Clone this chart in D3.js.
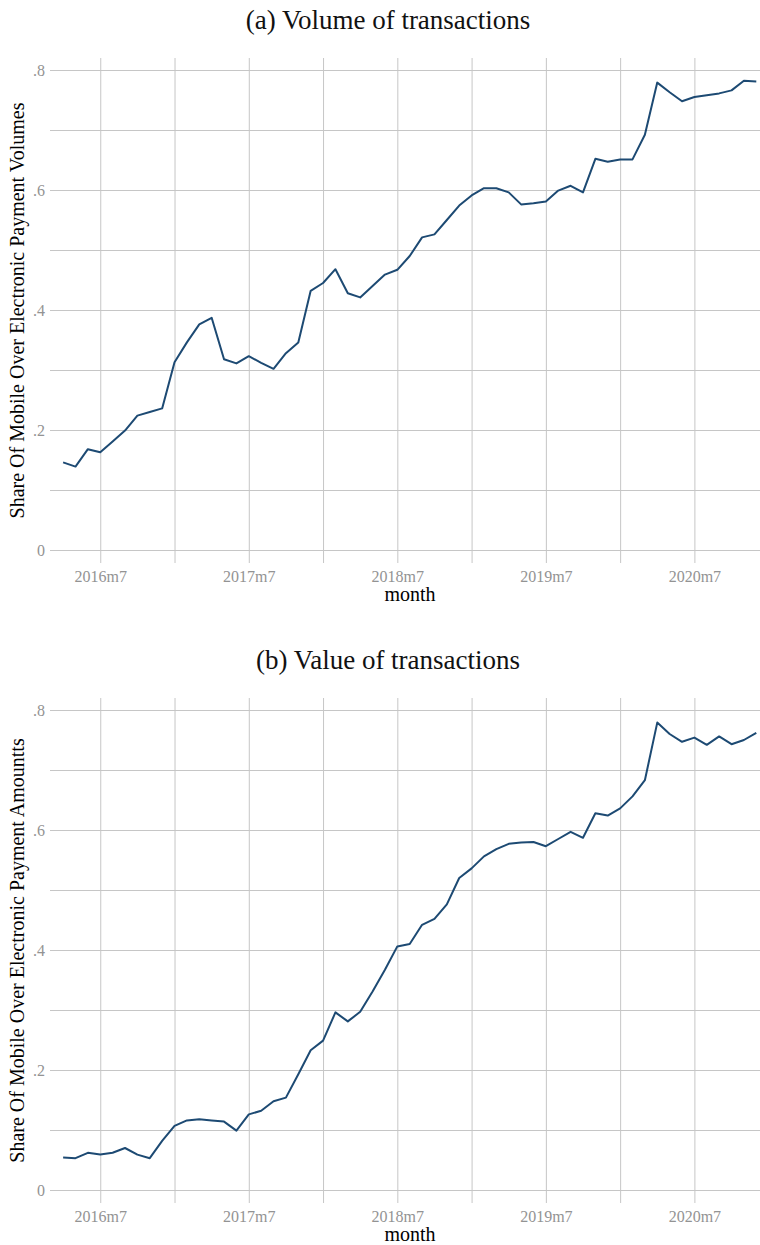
<!DOCTYPE html>
<meta charset="utf-8">
<style>
body { margin: 0; background: #fff; }
svg { display: block; }
.grid line { stroke: #c6c6c6; stroke-width: 1px; }
.grid .domain { display: none; }
.grid text { fill: #939393; font-family: "Liberation Serif", "Times New Roman", serif; font-size: 16px; }
.title { font-family: "Liberation Serif", "Times New Roman", serif; font-size: 27px; fill: #111; }
.label { font-family: "Liberation Serif", "Times New Roman", serif; font-size: 20px; fill: #000; }
.series { fill: none; stroke: #1d4a73; stroke-width: 2px; stroke-linejoin: round; }
</style>
<svg width="760" height="1245"></svg>
<script src="https://d3js.org/d3.v7.min.js"></script>
<script>

// months 2016m4 .. 2020m12, index 0..56
var startYear = 2016, startMonth = 4;
var months = d3.range(57).map(function(i) {
    var m = startMonth - 1 + i;
    return (startYear + Math.floor(m / 12)) + "m" + (m % 12 + 1);
});

var volumeShare = [
    0.146, 0.139, 0.168, 0.163, 0.181, 0.199, 0.224, 0.230, 0.236, 0.313,
    0.346, 0.376, 0.387, 0.318, 0.311, 0.323, 0.312, 0.302, 0.328, 0.346,
    0.432, 0.445, 0.468, 0.428, 0.421, 0.440, 0.459, 0.467, 0.490, 0.521,
    0.526, 0.550, 0.574, 0.591, 0.603, 0.603, 0.596, 0.576, 0.578, 0.581,
    0.599, 0.607, 0.596, 0.652, 0.647, 0.651, 0.651, 0.692, 0.779, 0.763,
    0.748, 0.755, 0.758, 0.761, 0.766, 0.782, 0.781
];

var valueShare = [
    0.054, 0.053, 0.062, 0.059, 0.062, 0.070, 0.059, 0.053, 0.082, 0.107,
    0.116, 0.118, 0.116, 0.114, 0.099, 0.126, 0.132, 0.148, 0.154, 0.193,
    0.233, 0.249, 0.296, 0.281, 0.297, 0.331, 0.367, 0.406, 0.410, 0.442,
    0.452, 0.476, 0.520, 0.536, 0.556, 0.568, 0.577, 0.579, 0.580, 0.573,
    0.585, 0.597, 0.587, 0.628, 0.624, 0.636, 0.656, 0.683, 0.779, 0.760,
    0.747, 0.754, 0.742, 0.756, 0.743, 0.750, 0.762
];

var yTicks = [0, 0.1, 0.2, 0.3, 0.4, 0.5, 0.6, 0.7, 0.8];
var yLabelled = [0, 0.2, 0.4, 0.6, 0.8];
var xTicks = d3.range(3, 57, 6);          // 2016m7, 2017m1, ...
var xLabelled = d3.range(3, 57, 12);      // every July

var panels = [
    { title: "(a) Volume of transactions",
      ylab: "Share Of Mobile Over Electronic Payment Volumes",
      values: volumeShare },
    { title: "(b) Value of transactions",
      ylab: "Share Of Mobile Over Electronic Payment Amountts",
      values: valueShare }
];

var svg = d3.select("svg");
var plotLeft = 50, plotRight = 760, plotTop = 58, plotBottom = 563;

var x = d3.scaleLinear().domain([-1.06, 56.3]).range([plotLeft, plotRight]);
var y = d3.scaleLinear().domain([0, 0.8]).range([550, 70]);

var line = d3.line()
    .x(function(d, i) { return x(i); })
    .y(function(d) { return y(d); });

panels.forEach(function(p, k) {
    var g = svg.append("g").attr("transform", "translate(0," + (k * 640) + ")");

    g.append("g")
        .attr("class", "grid")
        .attr("transform", "translate(" + plotLeft + ",0)")
        .call(d3.axisLeft(y)
            .tickValues(yTicks)
            .tickSize(-(plotRight - plotLeft))
            .tickPadding(5)
            .tickFormat(function(d) {
                if (yLabelled.indexOf(d) < 0) return "";
                return d === 0 ? "0" : d3.format(".1f")(d).replace(/^0/, "");
            }));

    g.append("g")
        .attr("class", "grid")
        .attr("transform", "translate(0," + plotBottom + ")")
        .call(d3.axisBottom(x)
            .tickValues(xTicks)
            .tickSize(-(plotBottom - plotTop))
            .tickPadding(8)
            .tickFormat(function(d) {
                return xLabelled.indexOf(d) < 0 ? "" : months[d];
            }));

    g.selectAll(".grid text")
        .attr("font-family", "Liberation Serif, serif")
        .attr("font-size", 16);

    g.append("path")
        .datum(p.values)
        .attr("class", "series")
        .attr("d", line);

    g.append("text")
        .attr("class", "title")
        .attr("x", 388)
        .attr("y", 29)
        .attr("text-anchor", "middle")
        .text(p.title);

    g.append("text")
        .attr("class", "label")
        .attr("transform", "translate(24," + ((plotTop + plotBottom) / 2) + ") rotate(-90)")
        .attr("text-anchor", "middle")
        .text(p.ylab);

    g.append("text")
        .attr("class", "label")
        .attr("x", (plotLeft + plotRight) / 2 + 5)
        .attr("y", 601)
        .attr("text-anchor", "middle")
        .text("month");
});

</script>
